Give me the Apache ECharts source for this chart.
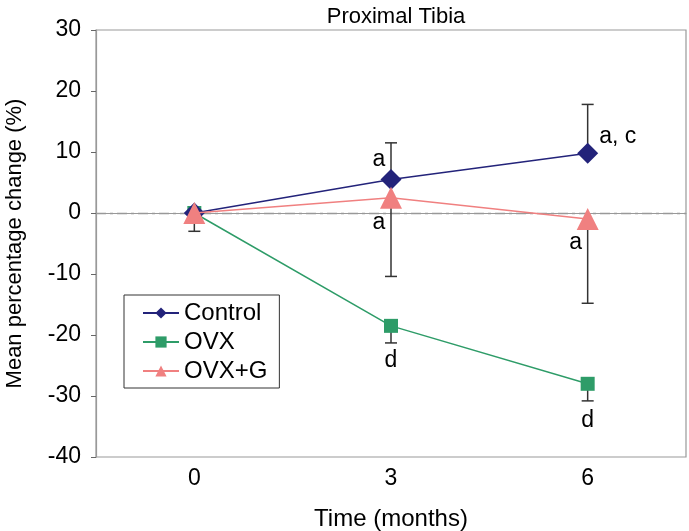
<!DOCTYPE html>
<html><head><meta charset="utf-8">
<script src="https://cdn.jsdelivr.net/npm/echarts@6/dist/echarts.min.js"></script>
<style>html,body{margin:0;padding:0;background:#fff}#c{width:689px;height:531px}</style>
</head><body><div id="c"></div>
<script>
const categories = ['0', '3', '6'];
const control = [0, 5.5, 9.8];
const ovx = [0, -18.5, -28.0];
const ovxg = [0, 2.5, -1.0];
// error bar far ends (one-sided, as drawn)
const controlErrEnd = [null, 11.5, 17.8];
const ovxErrEnd = [null, -21.3, -30.8];
const ovxgErrEnd = [-3.0, -10.4, -14.8];
// annotation letters: [category index, value, text]
const annotations = [
  [1, 8.8, 'a'],
  [1, -1.6, 'a'],
  [1, -24.2, 'd'],
  [2, 12.5, 'a, c'],
  [2, -4.9, 'a'],
  [2, -34.0, 'd']
];
const annOffsets = [[-12, 0], [-12, 0], [0, 0], [30, 0], [-12, 0], [0, 0]];

const FONT = 'Liberation Sans, Arial, sans-serif';
const chart = echarts.init(document.getElementById('c'));

function errSeries(vals, ends) {
  const d = [];
  vals.forEach((v, i) => { if (ends[i] !== null) d.push([i, v, ends[i]]); });
  return {
    type: 'custom', z: 1, silent: true,
    renderItem: function (params, api) {
      const p0 = api.coord([api.value(0), api.value(1)]);
      const p1 = api.coord([api.value(0), api.value(2)]);
      const w = 6;
      const st = { stroke: '#333', lineWidth: 1.5 };
      return { type: 'group', children: [
        { type: 'line', shape: { x1: p0[0], y1: p0[1], x2: p1[0], y2: p1[1] }, style: st },
        { type: 'line', shape: { x1: p1[0] - w, y1: p1[1], x2: p1[0] + w, y2: p1[1] }, style: st }
      ]};
    },
    data: d
  };
}

chart.setOption({
  animation: false,
  title: { text: 'Proximal Tibia', left: 391, top: 1, textAlign: 'center',
    textStyle: { fontFamily: FONT, fontSize: 22, fontWeight: 'normal', color: '#000' } },
  grid: { left: 96, right: 3, top: 30, bottom: 74, show: true, borderColor: '#999', borderWidth: 1.2,
    containLabel: false, outerBoundsMode: 'none' },
  legend: {
    orient: 'vertical', left: 124, top: 295, padding: [6, 12, 5, 18], itemGap: 5,
    borderColor: '#333', borderWidth: 1, backgroundColor: '#fff',
    itemWidth: 36, itemHeight: 14,
    textStyle: { fontFamily: FONT, fontSize: 24, color: '#000' },
    data: ['Control', 'OVX', 'OVX+G']
  },
  xAxis: {
    type: 'category', data: categories, boundaryGap: true,
    name: 'Time (months)', nameLocation: 'middle', nameGap: 50,
    nameTextStyle: { fontFamily: FONT, fontSize: 24, color: '#000' },
    axisLine: { lineStyle: { color: '#999', width: 1.2 } },
    axisTick: { show: false },
    axisLabel: { fontFamily: FONT, fontSize: 23, color: '#000', margin: 10 }
  },
  yAxis: {
    type: 'value', min: -40, max: 30, interval: 10,
    name: 'Mean percentage change (%)', nameLocation: 'middle', nameGap: 70,
    nameTextStyle: { fontFamily: FONT, fontSize: 22, color: '#000' },
    axisLine: { show: true, lineStyle: { color: '#999', width: 1.2 } },
    axisTick: { show: true, length: 5, lineStyle: { color: '#666' } },
    splitLine: { show: false },
    axisLabel: { fontFamily: FONT, fontSize: 23, color: '#000', margin: 15 }
  },
  series: [
    errSeries(control, controlErrEnd),
    errSeries(ovx, ovxErrEnd),
    errSeries(ovxg, ovxgErrEnd),
    {
      name: 'OVX', type: 'line', data: ovx, z: 3,
      symbol: 'rect', symbolSize: 14,
      lineStyle: { color: '#2e9c68', width: 1.5 },
      itemStyle: { color: '#2e9c68' },
      markLine: {
        silent: true, symbol: 'none', label: { show: false }, z: 0,
        lineStyle: { color: '#999', type: [10, 4, 3, 4], width: 1.3 },
        data: [{ yAxis: 0 }]
      }
    },
    {
      name: 'Control', type: 'line', data: control, z: 4,
      symbol: 'diamond', symbolSize: 21,
      lineStyle: { color: '#23237a', width: 1.5 },
      itemStyle: { color: '#23237a' }
    },
    {
      name: 'OVX+G', type: 'line', data: ovxg, z: 5,
      symbol: 'triangle', symbolSize: 22,
      lineStyle: { color: '#f08080', width: 1.5 },
      itemStyle: { color: '#f08080' }
    },
    {
      type: 'custom', z: 6, silent: true,
      renderItem: function (params, api) {
        const p = api.coord([api.value(0), api.value(1)]);
        const off = annOffsets[params.dataIndex];
        return { type: 'text', x: p[0] + off[0], y: p[1] + off[1],
          style: { text: annotations[params.dataIndex][2], fontFamily: FONT, fontSize: 23,
            fill: '#000', align: 'center', verticalAlign: 'middle' } };
      },
      data: annotations.map(a => [a[0], a[1]])
    }
  ]
});
</script></body></html>
